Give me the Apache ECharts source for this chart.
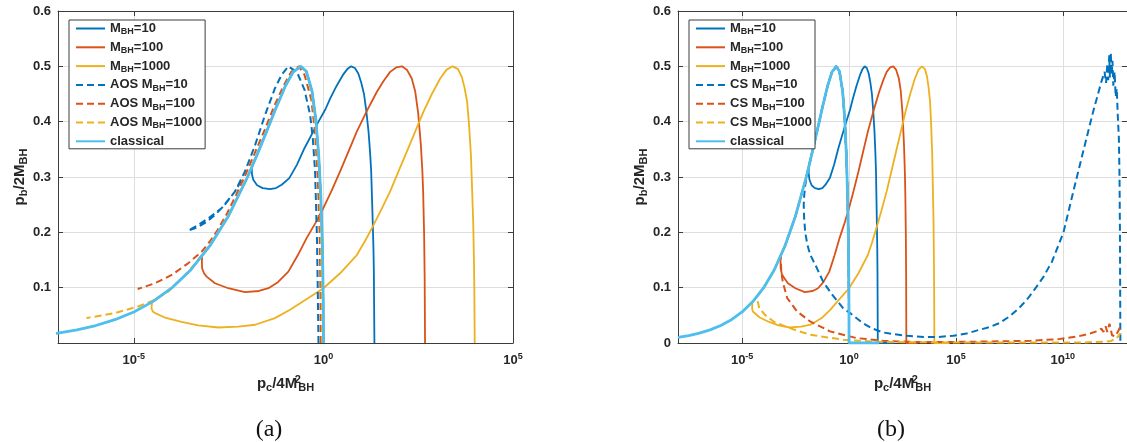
<!DOCTYPE html>
<html>
<head>
<meta charset="utf-8">
<script src="https://cdn.jsdelivr.net/npm/echarts@6.0.0/dist/echarts.min.js"></script>
<style>
html,body{margin:0;padding:0;background:#fff;}
#chart{width:1127px;height:442px;}
</style>
</head>
<body>
<div id="chart"></div>
<script>
// All curves: pairs [log10(p_c / 4 M_BH^2), p_b / 2 M_BH].

const xTicksA = [-5, 0, 5];
const xTicksB = [-5, 0, 5, 10];
const yTickStep = 0.1;

const legendNamesA = ['M_BH=10', 'M_BH=100', 'M_BH=1000', 'AOS M_BH=10', 'AOS M_BH=100', 'AOS M_BH=1000', 'classical'];
const legendNamesB = ['M_BH=10', 'M_BH=100', 'M_BH=1000', 'CS M_BH=10', 'CS M_BH=100', 'CS M_BH=1000', 'classical'];

const classicalCurve = [
  [-8,0.010],[-7.5,0.0133],[-7,0.0178],[-6.5,0.0237],[-6,0.0316],[-5.5,0.0421],[-5,0.0561],[-4.5,0.0748],
  [-4,0.0995],[-3.5,0.132],[-3,0.175],[-2.5,0.230],[-2,0.300],[-1.75,0.340],[-1.5,0.382],[-1.25,0.425],
  [-1,0.465],[-0.8,0.4895],[-0.6,0.500],[-0.45,0.491],[-0.3,0.455],[-0.2,0.404],[-0.12,0.335],
  [-0.07,0.267],[-0.035,0.195],[-0.015,0.130],[-0.005,0.075],[0,0]
];

const mBH10 = [
  [0,0],[-0.005,0.075],[-0.015,0.13],[-0.035,0.195],[-0.07,0.267],[-0.12,0.335],[-0.2,0.404],[-0.3,0.455],
  [-0.45,0.491],[-0.6,0.5],[-0.8,0.4895],[-1,0.465],[-1.25,0.425],[-1.5,0.382],[-1.75,0.34],[-1.89,0.318],
  [-1.885,0.305],[-1.85,0.295],[-1.75,0.285],[-1.6,0.28],[-1.41,0.278],[-1.25,0.280],[-1.1,0.286],
  [-0.9,0.298],[-0.7,0.322],[-0.5,0.352],[-0.3,0.378],[-0.13,0.40],[0.05,0.422],[0.18,0.442],[0.35,0.465],
  [0.53,0.486],[0.63,0.495],[0.73,0.5],[0.83,0.497],[0.92,0.487],[1.0,0.47],[1.07,0.45],[1.13,0.42],
  [1.19,0.382],[1.23,0.345],[1.26,0.31],[1.28,0.265],[1.30,0.22],[1.32,0.17],[1.33,0.129],[1.345,0]
];

const mBH100 = [
  [0,0],[-0.005,0.075],[-0.015,0.13],[-0.035,0.195],[-0.07,0.267],[-0.12,0.335],[-0.2,0.404],[-0.3,0.455],
  [-0.45,0.491],[-0.6,0.5],[-0.8,0.4895],[-1,0.465],[-1.25,0.425],[-1.5,0.382],[-2,0.3],[-2.5,0.23],
  [-3,0.175],[-3.2,0.158],[-3.205,0.145],[-3.2,0.135],[-3.15,0.126],[-3.08,0.12],[-2.86,0.108],[-2.51,0.099],
  [-2.07,0.092],[-1.7,0.094],[-1.45,0.099],[-1.2,0.11],[-0.925,0.129],[-0.68,0.158],[-0.44,0.19],
  [-0.2,0.218],[0,0.244],[0.22,0.276],[0.44,0.31],[0.66,0.346],[0.88,0.382],[1.15,0.42],[1.41,0.454],
  [1.6,0.475],[1.76,0.49],[1.92,0.498],[2.07,0.5],[2.2,0.494],[2.33,0.478],[2.42,0.455],[2.5,0.415],
  [2.57,0.358],[2.61,0.31],[2.63,0.274],[2.655,0.2],[2.67,0.12],[2.68,0]
];

const mBH1000 = [
  [0,0],[-0.005,0.075],[-0.015,0.13],[-0.035,0.195],[-0.07,0.267],[-0.12,0.335],[-0.2,0.404],[-0.3,0.455],
  [-0.45,0.491],[-0.6,0.5],[-0.8,0.4895],[-1,0.465],[-1.25,0.425],[-1.5,0.382],[-2,0.3],[-2.5,0.23],
  [-3,0.175],[-3.5,0.132],[-4,0.0995],[-4.52,0.074],[-4.535,0.063],[-4.5,0.057],[-4.44,0.054],[-4.18,0.046],
  [-3.74,0.038],[-3.3,0.032],[-2.77,0.028],[-2.25,0.0295],[-1.8,0.033],[-1.28,0.045],[-0.88,0.06],
  [-0.5,0.077],[0,0.099],[0.44,0.126],[0.88,0.159],[1.08,0.182],[1.28,0.2076],[1.52,0.24],[1.76,0.274],
  [1.98,0.31],[2.2,0.346],[2.42,0.382],[2.64,0.418],[2.86,0.45],[3.08,0.478],[3.25,0.494],[3.41,0.5],
  [3.55,0.495],[3.65,0.481],[3.72,0.462],[3.79,0.436],[3.84,0.395],[3.89,0.34],[3.92,0.28],[3.95,0.22],
  [3.97,0.15],[3.98,0.099],[3.99,0]
];

const aos10 = [
  [-0.13,0],[-0.15,0.1],[-0.17,0.19],[-0.22,0.31],[-0.28,0.37],[-0.35,0.412],[-0.5,0.458],[-0.7,0.49],
  [-0.925,0.5],[-1.1,0.485],[-1.28,0.46],[-1.54,0.412],[-1.8,0.358],[-2.07,0.31],[-2.33,0.274],[-2.68,0.244],
  [-3.03,0.2256],[-3.3,0.2135],[-3.57,0.203],[-3.35,0.208],[-3.1,0.218],[-2.85,0.232],[-2.6,0.25],
  [-2.35,0.272],[-2.15,0.295]
];

const aos100 = [
  [-0.07,0],[-0.08,0.1],[-0.1,0.2],[-0.15,0.3],[-0.22,0.38],[-0.32,0.44],[-0.5,0.485],[-0.65,0.5],
  [-0.85,0.49],[-1.05,0.465],[-1.3,0.428],[-1.55,0.385],[-1.8,0.345],[-2.05,0.305],[-2.3,0.268],
  [-2.55,0.233],[-2.8,0.203],[-3.0,0.183],[-3.21,0.165],[-3.57,0.144],[-4.0,0.123],[-4.44,0.108],[-4.9,0.0975]
];

const aos1000 = [
  [-0.03,0],[-0.045,0.1],[-0.065,0.2],[-0.11,0.3],[-0.19,0.38],[-0.3,0.448],[-0.45,0.49],[-0.62,0.5],
  [-0.8,0.49],[-1.0,0.466],[-1.5,0.383],[-2,0.302],[-2.5,0.232],[-3,0.177],[-3.5,0.134],[-3.8,0.112],
  [-4.09,0.093],[-4.45,0.078],[-4.89,0.066],[-5.5,0.054],[-6.25,0.045]
];

const cs10 = [
  [0,0],[-0.005,0.075],[-0.015,0.13],[-0.035,0.195],[-0.07,0.267],[-0.12,0.335],[-0.2,0.404],[-0.3,0.455],
  [-0.45,0.491],[-0.6,0.5],[-0.8,0.4895],[-1,0.465],[-1.25,0.425],[-1.5,0.382],[-1.75,0.34],[-1.95,0.305],
  [-2.05,0.285],[-2.1,0.265],[-2.12,0.25],[-2.1,0.225],[-2.05,0.2],[-1.95,0.178],[-1.82,0.16],[-1.5,0.135],
  [-1.2,0.11],[-0.8,0.088],[-0.28,0.063],[0.09,0.053],[0.64,0.036],[1.1,0.026],[1.6,0.019],[2.11,0.016],
  [2.72,0.013],[3.5,0.011],[4.2,0.011],[4.87,0.013],[5.5,0.017],[6.11,0.024],[6.6,0.029],[7.03,0.036],
  [7.5,0.048],[7.95,0.063],[8.35,0.08],[8.72,0.099],[9.1,0.12],[9.49,0.147],[10.03,0.2],[10.49,0.274],
  [10.95,0.346],[11.41,0.417],[11.8,0.472],[11.95,0.49],[12.02,0.47],[12.08,0.505],[12.12,0.475],
  [12.17,0.52],[12.2,0.48],[12.24,0.525],[12.28,0.485],[12.32,0.51],[12.36,0.465],[12.42,0.49],
  [12.47,0.445],[12.52,0.46],[12.57,0.41],[12.62,0.37],[12.65,0.3],[12.67,0.2],[12.68,0.1],[12.69,0]
];

const cs100 = [
  [0,0],[-0.005,0.075],[-0.015,0.13],[-0.035,0.195],[-0.07,0.267],[-0.12,0.335],[-0.2,0.404],[-0.3,0.455],
  [-0.45,0.491],[-0.6,0.5],[-0.8,0.4895],[-1,0.465],[-1.25,0.425],[-1.5,0.382],[-2,0.3],[-2.5,0.23],
  [-3,0.175],[-3.2,0.158],[-3.17,0.13],[-3.1,0.11],[-2.89,0.081],[-2.43,0.057],[-1.82,0.039],[-0.89,0.021],
  [0.34,0.009],[1.57,0.004],[3,0.002],[5,0.002],[7,0.003],[8.5,0.004],[9.8,0.007],[10.72,0.012],
  [11.34,0.018],[11.65,0.022],[11.8,0.026],[11.9,0.02],[12.0,0.03],[12.08,0.02],[12.18,0.035],
  [12.3,0.014],[12.45,0.012],[12.6,0.022],[12.7,0.032]
];

const cs1000 = [
  [0,0],[-0.005,0.075],[-0.015,0.13],[-0.035,0.195],[-0.07,0.267],[-0.12,0.335],[-0.2,0.404],[-0.3,0.455],
  [-0.45,0.491],[-0.6,0.5],[-0.8,0.4895],[-1,0.465],[-1.25,0.425],[-1.5,0.382],[-2,0.3],[-2.5,0.23],
  [-3,0.175],[-3.5,0.132],[-4,0.0995],[-4.3,0.084],[-4.27,0.075],[-4.2,0.063],[-3.91,0.05],[-3.5,0.038],
  [-2.98,0.03],[-2.4,0.022],[-1.82,0.015],[-1.0,0.01],[-0.28,0.006],[0.5,0.004],[1.5,0.002],[4,0.001],
  [8,0.001],[11,0.001],[12.2,0.003],[12.5,0.008],[12.7,0.018]
];

// flat continuations along p_b = 0 visible in panel (b)
const tailClassicalB = [[0,0],[1.4,0]];
const tailM10B = [[1.345,0],[2.1,0]];
const tailM100B = [[2.68,0],[3.2,0]];
const tailM1000B = [[3.99,0],[4.7,0]];

const C_BLUE = '#0072BD', C_ORANGE = '#D95319', C_YELLOW = '#EDB120', C_LIGHT = '#4DBEEE';
const FRAME = '#3c3c3c', GRIDC = '#dedede', TXT = '#262626';
const FONT = '"Liberation Sans", Arial, Helvetica, sans-serif';
const DASH = [7, 4];

const tickRich = {
  b: {fontSize: 13, fontWeight: 'bold', fontFamily: FONT, color: TXT, lineHeight: 16},
  p: {fontSize: 9, fontWeight: 'bold', fontFamily: FONT, color: TXT, lineHeight: 6, verticalAlign: 'top'}
};
const nameRich = {
  m: {fontSize: 15, fontWeight: 'bold', fontFamily: FONT, color: TXT, lineHeight: 19},
  s: {fontSize: 11, fontWeight: 'bold', fontFamily: FONT, color: TXT, lineHeight: 6, verticalAlign: 'bottom'},
  u: {fontSize: 11, fontWeight: 'bold', fontFamily: FONT, color: TXT, lineHeight: 6, verticalAlign: 'top', width: 1}
};
const legendRich = {
  t: {fontSize: 13, fontWeight: 'bold', fontFamily: FONT, color: TXT, lineHeight: 16},
  s: {fontSize: 9, fontWeight: 'bold', fontFamily: FONT, color: TXT, lineHeight: 6, verticalAlign: 'bottom'}
};

function legendFormatter(name) {
  const parts = name.split('M_BH');
  if (parts.length === 1) return '{t|' + name + '}';
  return (parts[0] ? '{t|' + parts[0] + '}' : '') + '{t|M}{s|BH}{t|' + parts[1] + '}';
}

function makeXAxes(gridIndex, min, max, ticks) {
  return [
    {
      type: 'value', gridIndex: gridIndex, min: min, max: max, interval: 1, position: 'bottom',
      axisLine: {show: true, onZero: false, lineStyle: {color: FRAME, width: 1}},
      axisTick: {show: true, inside: true, length: 5, customValues: ticks, lineStyle: {color: FRAME}},
      axisLabel: {
        show: true, customValues: ticks, margin: 9,
        formatter: function (v) { return '{b|10}{p|' + v + '}'; },
        rich: tickRich
      },
      splitLine: {show: true, lineStyle: {color: GRIDC, width: 1}},
      name: '{m|p}{s|c}{m|/4M}{u|2}{s|BH}', nameLocation: 'middle', nameGap: 31,
      nameTextStyle: {rich: nameRich}
    },
    {
      type: 'value', gridIndex: gridIndex, min: min, max: max, interval: 1, position: 'top',
      axisLine: {show: true, onZero: false, lineStyle: {color: FRAME, width: 1}},
      axisTick: {show: true, inside: true, length: 5, customValues: ticks, lineStyle: {color: FRAME}},
      axisLabel: {show: false},
      splitLine: {show: false}
    }
  ];
}

function makeYAxes(gridIndex, showZero) {
  return [
    {
      type: 'value', gridIndex: gridIndex, min: 0, max: 0.6, interval: yTickStep, position: 'left',
      axisLine: {show: true, onZero: false, lineStyle: {color: FRAME, width: 1}},
      axisTick: {show: true, inside: true, length: 5, lineStyle: {color: FRAME}},
      axisLabel: {
        show: true, margin: 7, fontSize: 13, fontWeight: 'bold', fontFamily: FONT, color: TXT,
        formatter: function (v) { if (v === 0) return showZero ? '0' : ''; return v.toFixed(1); }
      },
      splitLine: {show: true, lineStyle: {color: GRIDC, width: 1}},
      name: '{m|p}{s|b}{m|/2M}{s|BH}', nameLocation: 'middle', nameGap: 27, nameRotate: 90,
      nameTextStyle: {rich: nameRich}
    },
    {
      type: 'value', gridIndex: gridIndex, min: 0, max: 0.6, interval: yTickStep, position: 'right',
      axisLine: {show: true, onZero: false, lineStyle: {color: FRAME, width: 1}},
      axisTick: {show: true, inside: true, length: 5, lineStyle: {color: FRAME}},
      axisLabel: {show: false},
      splitLine: {show: false}
    }
  ];
}

function line(name, data, color, width, dashed, axisIdx) {
  return {
    type: 'line', name: name, data: data, xAxisIndex: axisIdx, yAxisIndex: axisIdx,
    symbol: 'none', showSymbol: false, smooth: false, silent: true, animation: false,
    emphasis: {disabled: true},
    itemStyle: {color: color},
    lineStyle: {color: color, width: width, type: dashed ? DASH : 'solid', cap: 'butt'}
  };
}

const series = [
  // panel (a)
  line('M_BH=10', mBH10, C_BLUE, 1.8, false, 0),
  line('M_BH=100', mBH100, C_ORANGE, 1.8, false, 0),
  line('M_BH=1000', mBH1000, C_YELLOW, 1.8, false, 0),
  line('AOS M_BH=10', aos10, C_BLUE, 2, true, 0),
  line('AOS M_BH=100', aos100, C_ORANGE, 2, true, 0),
  line('AOS M_BH=1000', aos1000, C_YELLOW, 2, true, 0),
  line('classical', classicalCurve, C_LIGHT, 2.8, false, 0),
  // panel (b)
  line('M_BH=10', mBH10.concat(tailM10B), C_BLUE, 1.8, false, 2),
  line('M_BH=100', mBH100.concat(tailM100B), C_ORANGE, 1.8, false, 2),
  line('M_BH=1000', mBH1000.concat(tailM1000B), C_YELLOW, 1.8, false, 2),
  line('CS M_BH=10', cs10, C_BLUE, 2, true, 2),
  line('CS M_BH=100', cs100, C_ORANGE, 2, true, 2),
  line('CS M_BH=1000', cs1000, C_YELLOW, 2, true, 2),
  line('classical', classicalCurve.concat(tailClassicalB), C_LIGHT, 2.8, false, 2)
];

const legendCommon = {
  orient: 'vertical', top: 20, itemWidth: 29, itemHeight: 12, itemGap: 4.3,
  backgroundColor: '#ffffff', borderColor: FRAME, borderWidth: 1, borderRadius: 0,
  itemStyle: {color: 'rgba(0,0,0,0)', borderWidth: 0, opacity: 0},
  formatter: legendFormatter, textStyle: {rich: legendRich}, selectedMode: false
};

const chart = echarts.init(document.getElementById('chart'), null, {renderer: 'canvas'});
chart.setOption({
  animation: false,
  backgroundColor: '#ffffff',
  grid: [
    {left: 58, top: 11, width: 455, height: 332, show: false},
    {left: 678, top: 11, width: 455, height: 332, show: false}
  ],
  xAxis: makeXAxes(0, -7, 5, xTicksA).concat(makeXAxes(1, -8, 13, xTicksB)),
  yAxis: makeYAxes(0, false).concat(makeYAxes(1, true)),
  legend: [
    Object.assign({}, legendCommon, {left: 69, data: legendNamesA, padding: [2, 3, 1, 6]}),
    Object.assign({}, legendCommon, {left: 689, data: legendNamesB, padding: [2, 3, 1, 6]})
  ],
  graphic: [
    {type: 'text', x: 269, y: 430, style: {text: '(a)', fontSize: 24, fontFamily: '"Liberation Serif", "DejaVu Serif", serif', fill: '#111', align: 'center', verticalAlign: 'middle'}},
    {type: 'text', x: 891, y: 430, style: {text: '(b)', fontSize: 24, fontFamily: '"Liberation Serif", "DejaVu Serif", serif', fill: '#111', align: 'center', verticalAlign: 'middle'}}
  ],
  series: series
});
</script>
</body>
</html>
